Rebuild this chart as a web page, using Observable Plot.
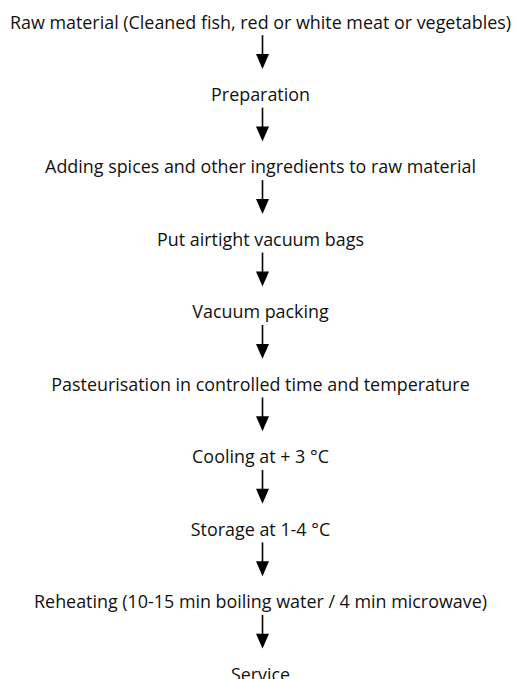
<!DOCTYPE html>
<html>
<head>
<meta charset="utf-8">
<script src="https://cdn.jsdelivr.net/npm/d3@7"></script>
<script src="https://cdn.jsdelivr.net/npm/@observablehq/plot@0.6"></script>
<style>
  html, body { margin: 0; padding: 0; background: #fff; }
  #chart svg { display: block; }
</style>
</head>
<body>
<div id="chart"></div>
<script>
// Flowchart steps (top to bottom)
const steps = [
  "Raw material (Cleaned fish, red or white meat or vegetables)",
  "Preparation",
  "Adding spices and other ingredients to raw material",
  "Put airtight vacuum bags",
  "Vacuum packing",
  "Pasteurisation in controlled time and temperature",
  "Cooling at + 3 °C",
  "Storage at 1-4 °C",
  "Reheating (10-15 min boiling water / 4 min microwave)",
  "Service"
];
// Arrows connect each step to the next
const arrowFrom = [0, 1, 2, 3, 4, 5, 6, 7, 8];

const stepRows = steps.map((label, i) => ({label, i}));
const arrowRows = arrowFrom.map(i => ({from: i, to: i + 1}));

// Filled downward triangle head, tip at the anchor point
const headSymbol = {
  draw(context, size) {
    const r = Math.sqrt(size / Math.PI);
    context.moveTo(0, 0);
    context.lineTo(-r, -2.3 * r);
    context.lineTo(r, -2.3 * r);
    context.closePath();
  }
};

const cx = 260;
const plot = Plot.plot({
  width: 514,
  height: 679,
  margin: 0,
  x: {domain: [0, 514], range: [0, 514], axis: null},
  y: {domain: [0, steps.length - 1], range: [28, 680], axis: null},
  marks: [
    Plot.text(stepRows, {
      x: () => cx,
      y: "i",
      text: "label",
      textAnchor: "middle",
      lineAnchor: "bottom",
      fontSize: 17.9,
      fill: "#111"
    }),
    Plot.ruleX(arrowRows, {
      x: () => 262,
      y1: d => d.from + 0.1,
      y2: d => d.to - 0.6,
      stroke: "#000",
      strokeWidth: 1.6
    }),
    Plot.dot(arrowRows, {
      x: () => 262,
      y: d => d.to - 0.44,
      symbol: headSymbol,
      r: 6.5,
      fill: "#000",
      stroke: "none"
    })
  ],
  style: {fontFamily: "'Open Sans', sans-serif", background: "#fff"}
});
document.getElementById("chart").append(plot);
</script>
</body>
</html>
